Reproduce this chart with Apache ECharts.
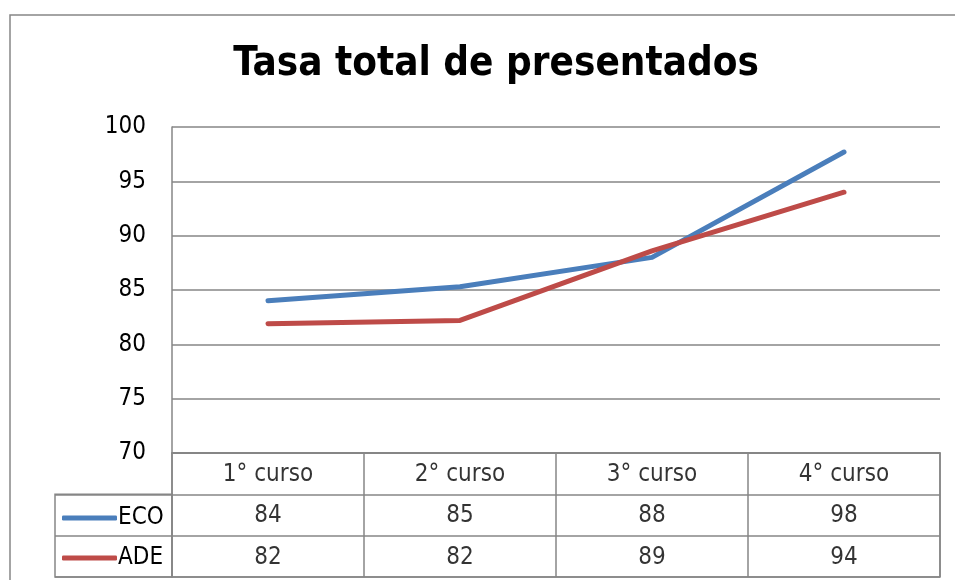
<!DOCTYPE html>
<html>
<head>
<meta charset="utf-8">
<script src="https://cdn.jsdelivr.net/npm/echarts@6/dist/echarts.min.js"></script>
<style>html,body{margin:0;padding:0;background:#fff}#c{width:955px;height:580px}</style>
</head>
<body>
<div id="c"></div>
<script>
var titleText = 'Tasa total de presentados';
var categories = ['1° curso', '2° curso', '3° curso', '4° curso'];
var seriesNames = ['ECO', 'ADE'];
var ecoValues = [84.0, 85.3, 88.0, 97.7];
var adeValues = [81.9, 82.2, 88.6, 94.0];
var yTicks = [70, 75, 80, 85, 90, 95, 100];

var FONT = '"DejaVu Sans Condensed", Roboto, sans-serif';
var GRID_COLOR = '#868686';
var BLUE = '#4A7EBB';
var RED = '#BE4B48';

function tableRow(values, rowPos) {
  return categories.map(function (c, i) {
    return { value: [c, rowPos], label: { formatter: String(Math.round(values[i])) } };
  });
}
var headerRow = categories.map(function (c) {
  return { value: [c, 0.5], label: { formatter: c } };
});

function legendFor(name, top) {
  return {
    orient: 'vertical', left: 62, top: top, padding: 0,
    itemWidth: 55, itemHeight: 5,
    icon: 'roundRect',
    data: [name],
    textStyle: { fontFamily: FONT, fontSize: 24, color: '#000', padding: [0, 0, 0, -4] }
  };
}

var chart = echarts.init(document.getElementById('c'));
var option = {
  animation: false,
  backgroundColor: '#fff',
  textStyle: { fontFamily: FONT, color: '#000' },
  title: {
    text: titleText,
    left: 491, textAlign: 'center', top: 40,
    textStyle: { fontFamily: FONT, fontWeight: 'bold', fontSize: 40, color: '#000' }
  },
  legend: [legendFor(seriesNames[0], 506), legendFor(seriesNames[1], 546)],
  graphic: [{
    type: 'rect', shape: { x: 10, y: 15, width: 1000, height: 700 },
    style: { fill: 'none', stroke: GRID_COLOR, lineWidth: 1.5 }, silent: true, z: -1
  }],
  grid: [
    { left: 172, top: 127, width: 768, height: 326 },
    { left: 172, top: 453, width: 768, height: 124, show: true, borderColor: GRID_COLOR, borderWidth: 1.5 },
    { left: 55, top: 494.3, width: 117, height: 82.7, show: true, borderColor: GRID_COLOR, borderWidth: 1.5 }
  ],
  xAxis: [
    { type: 'category', gridIndex: 0, data: categories, boundaryGap: true,
      axisLine: { show: true, lineStyle: { color: GRID_COLOR, width: 1.5 } },
      axisTick: { show: false }, axisLabel: { show: false }, splitLine: { show: false } },
    { type: 'category', gridIndex: 1, data: categories, boundaryGap: true,
      axisLine: { show: false }, axisTick: { show: false }, axisLabel: { show: false },
      splitLine: { show: true, lineStyle: { color: GRID_COLOR, width: 1.5 } } },
    { type: 'value', gridIndex: 2, min: 0, max: 1, show: false }
  ],
  yAxis: [
    { type: 'value', gridIndex: 0, min: yTicks[0], max: yTicks[yTicks.length - 1], interval: 5,
      axisLine: { show: true, lineStyle: { color: GRID_COLOR, width: 1.5 } },
      axisTick: { show: false },
      axisLabel: { fontFamily: FONT, fontSize: 24, color: '#000', margin: 26, padding: [4, 0, 0, 0] },
      splitLine: { show: true, lineStyle: { color: GRID_COLOR, width: 1.5 } } },
    { type: 'value', gridIndex: 1, min: 0, max: 3, interval: 1, inverse: true,
      axisLine: { show: false }, axisTick: { show: false }, axisLabel: { show: false },
      splitLine: { show: true, lineStyle: { color: GRID_COLOR, width: 1.5 } } },
    { type: 'value', gridIndex: 2, min: 0, max: 2, interval: 1,
      axisLine: { show: false }, axisTick: { show: false }, axisLabel: { show: false },
      splitLine: { show: true, lineStyle: { color: GRID_COLOR, width: 1.5 } } }
  ],
  series: [
    { name: seriesNames[0], type: 'line', xAxisIndex: 0, yAxisIndex: 0, data: ecoValues,
      symbol: 'none', color: BLUE,
      lineStyle: { width: 5, color: BLUE, cap: 'round', join: 'round' } },
    { name: seriesNames[1], type: 'line', xAxisIndex: 0, yAxisIndex: 0, data: adeValues,
      symbol: 'none', color: RED,
      lineStyle: { width: 5, color: RED, cap: 'round', join: 'round' } },
    { type: 'scatter', xAxisIndex: 1, yAxisIndex: 1, symbolSize: 0, silent: true,
      data: headerRow.concat(tableRow(ecoValues, 1.5), tableRow(adeValues, 2.5)),
      label: { show: true, position: 'inside', fontFamily: FONT, fontSize: 24, color: '#000', offset: [0, 1] } }
  ]
};
chart.setOption(option);
</script>
</body>
</html>
